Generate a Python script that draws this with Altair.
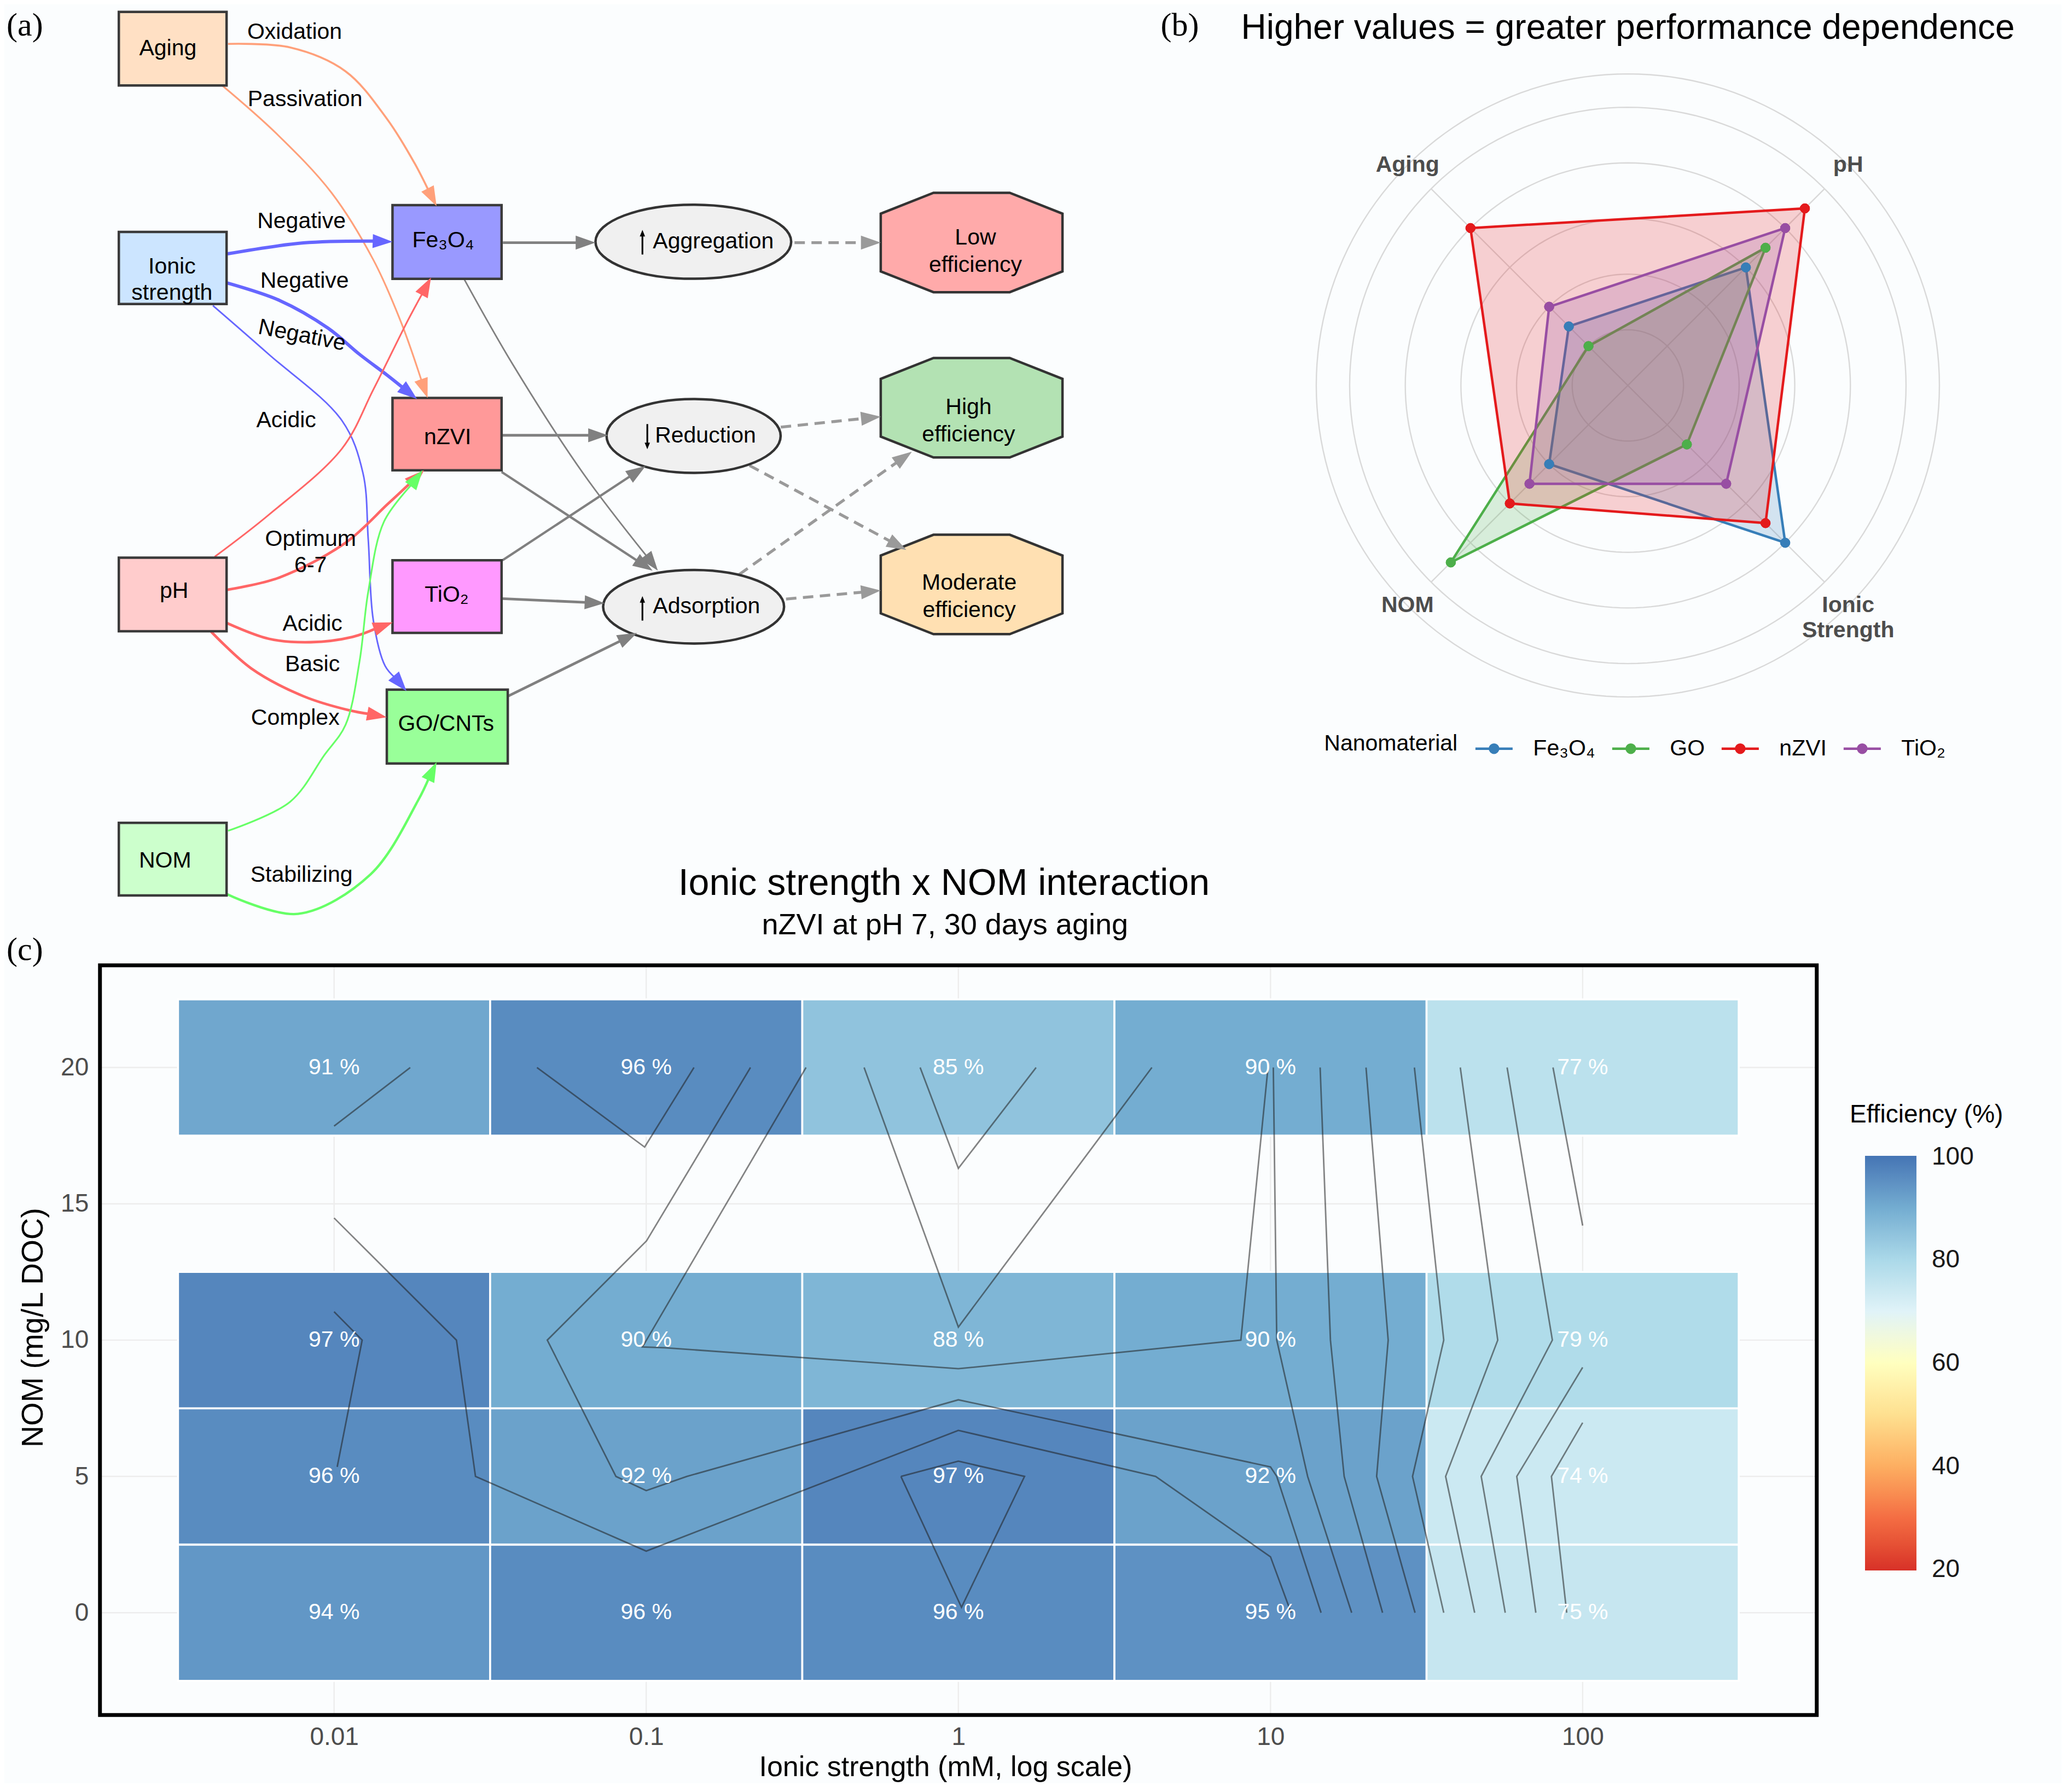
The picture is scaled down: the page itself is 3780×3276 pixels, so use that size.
import math
import altair as alt
import pandas as pd

# reference display unit (1568 x 1359 frame) -> page pixel = d * K ; the page has an 8 px margin
K = 3780.0 / 1568.0
W, H = 3760, 3252                      # whole canvas
PL = 75.8 * K - 8.0                    # left padding: the view starts at the heat-map frame
VH = 1300.5 * K - 8.0                  # view height: the view ends at the heat-map frame bottom


def PX(d):
    return d * K - 8.0 - PL


def PY(d):
    return d * K - 8.0


SANS = "Liberation Sans"
SERIF = "Liberation Serif"
BG = "#FBFDFE"
SYM = (2.0 * K) ** 2  # custom symbol paths are written in display units

# ============================================================ panel (a) data
node_id = ["Aging", "Ionic", "pH", "NOM", "Fe3O4", "nZVI", "TiO2", "GO"]
node_text = ["Aging", "Ionic\nstrength", "pH", "NOM", "Fe₃O₄", "nZVI", "TiO₂", "GO/CNTs"]
node_left = [90.1, 90.1, 90.1, 90.1, 297.6, 297.6, 297.6, 293.3]
node_right = [171.8, 171.8, 171.8, 171.8, 380.3, 380.3, 380.3, 385.0]
node_top = [9.0, 175.9, 422.9, 624.0, 155.6, 301.8, 424.9, 523.0]
node_bottom = [64.8, 230.5, 478.7, 679.0, 211.4, 356.6, 479.9, 579.0]
node_fill = ["#FFE0C4", "#CCE5FF", "#FFCCCC", "#CCFFCC", "#9999FF", "#FF9999", "#FF99FF", "#99FF99"]
node_text_x = [127.3, 130.4, 132.0, 125.2, 336.0, 339.4, 338.7, 338.2]
node_text_y = [37.1, 202.4, 448.5, 652.8, 182.7, 331.7, 451.3, 549.2]

proc_id = ["Aggregation", "Reduction", "Adsorption"]
proc_text = ["Aggregation", "Reduction", "Adsorption"]
proc_cx = [525.7, 525.9, 525.9]
proc_cy = [183.3, 330.6, 460.1]
proc_rx = [74.2, 66.0, 68.6]
proc_ry = [28.1, 28.0, 27.9]
proc_text_x = [495.0, 496.6, 495.0]
# thin up / down arrows drawn in front of the process names
glyph_x = [487.1, 490.8, 487.1]
glyph_tail = [193.0, 321.6, 470.6]
glyph_tip = [174.3, 340.7, 452.0]

out_text = ["Low\nefficiency", "High\nefficiency", "Moderate\nefficiency"]
out_cx = [736.7, 736.7, 736.7]
out_cy = [183.9, 309.2, 443.2]
out_text_x = [739.6, 734.4, 734.9]
out_text_y = [180.3, 309.2, 442.0]
out_fill = ["#FFAAAA", "#B3E2B3", "#FFE0B2"]

ORANGE, BLUE, RED, GREEN, GRAY, DGRAY = "#FFA07A", "#6666FF", "#FF6666", "#66FF66", "#808080", "#9A9A9A"
edge_id = ["Oxidation", "Passivation", "IS-Fe", "IS-nZVI", "IS-GO", "pH-Fe", "pH-nZVI", "pH-TiO2",
           "pH-GO", "NOM-nZVI", "NOM-GO", "Fe-Agg", "Fe-Ads", "nZVI-Red", "nZVI-Ads", "TiO2-Red",
           "TiO2-Ads", "GO-Ads", "Agg-Low", "Red-High", "Red-Mod", "Ads-High", "Ads-Mod"]
edge_pts = [
    [(172.9, 33.3), (220.0, 36.0), (261.9, 54.0), (293.3, 90.0), (314.3, 123.7), (331.0, 156.3)],
    [(167.6, 64.1), (209.5, 101.2), (251.4, 146.2), (283.2, 197.3), (304.3, 244.9), (324.2, 301.8)],
    [(172.5, 192.5), (230.0, 184.2), (283.0, 182.8), (297.6, 183.3)],
    [(172.0, 214.5), (211.7, 227.7), (248.8, 248.9), (272.6, 268.7), (293.7, 284.6), (316.2, 302.6)],
    [(161.4, 231.7), (203.8, 268.7), (259.3, 319.0), (275.2, 358.7), (279.2, 409.0), (283.0, 470.0),
     (292.0, 505.0), (308.2, 524.0)],
    [(162.8, 422.2), (203.8, 390.4), (259.3, 340.2), (283.2, 295.2), (309.6, 242.3), (326.8, 210.5)],
    [(172.0, 447.3), (211.7, 438.0), (262.0, 411.6), (293.7, 382.5), (321.5, 356.6)],
    [(172.0, 472.5), (203.8, 484.4), (235.5, 487.0), (267.3, 483.0), (297.7, 472.0)],
    [(160.1, 479.0), (190.5, 506.9), (230.2, 528.0), (264.6, 538.6), (293.2, 543.9)],
    [(172.9, 630.0), (220.0, 608.0), (246.0, 572.5), (262.0, 549.7), (272.6, 501.6), (279.2, 448.7),
     (291.1, 395.7), (320.4, 356.6)],
    [(172.0, 678.0), (226.0, 693.0), (281.0, 663.0), (317.0, 607.0), (331.0, 578.0)],
    [(381.3, 184.0), (451.5, 184.0)],
    [(352.0, 211.8), (389.0, 276.7), (442.0, 358.7), (498.8, 432.8)],
    [(380.3, 330.1), (461.0, 330.1)],
    [(380.3, 357.9), (494.8, 432.8)],
    [(381.0, 424.9), (489.5, 353.4)],
    [(381.0, 454.0), (458.3, 457.4)],
    [(385.0, 528.0), (483.0, 479.9)],
    [(602.4, 184.0), (667.8, 184.0)],
    [(592.0, 323.9), (667.8, 316.0)],
    [(568.3, 353.0), (687.2, 417.0)],
    [(560.5, 435.6), (691.4, 342.5)],
    [(596.0, 454.3), (667.8, 447.8)],
]
edge_color = [ORANGE, ORANGE, BLUE, BLUE, BLUE, RED, RED, RED, RED, GREEN, GREEN,
              GRAY, GRAY, GRAY, GRAY, GRAY, GRAY, GRAY, DGRAY, DGRAY, DGRAY, DGRAY, DGRAY]
edge_width = [1.5, 1.3, 2.5, 2.5, 1.2, 1.3, 2.0, 2.0, 2.0, 1.3, 1.8,
              2.0, 1.2, 2.0, 1.8, 1.8, 2.0, 2.0, 2.2, 2.2, 2.2, 2.2, 2.2]
edge_dashed = [False] * 18 + [True] * 5

elab_text = ["Oxidation", "Passivation", "Negative", "Negative", "Negative", "Acidic",
             "Optimum\n6-7", "Acidic", "Basic", "Complex", "Stabilizing"]
elab_x = [223.4, 231.3, 228.6, 230.9, 229.0, 217.0, 235.5, 236.9, 236.9, 223.9, 228.6]
elab_y = [24.3, 75.3, 168.2, 213.2, 254.5, 319.0, 408.9, 473.3, 504.2, 544.7, 663.9]
elab_angle = [0, 0, 0, 0, 11, 0, 0, 0, 0, 0, 0]

tag_text = ["(a)", "(b)", "(c)"]
tag_x = [5.0, 880.0, 5.0]
tag_y = [19.5, 19.5, 720.5]

ARROW_PATH = "M0,0L-15,-5.3L-15,5.3Z"
ARROW_BACK = 13.0
GLYPH_HEAD = "M0,0L-5,-2L-5,2Z"
GLYPH_BACK = 4.0
OCT_PATH = "M-28.9,-37.7L28.9,-37.7L68.9,-21.9L68.9,21.9L28.9,37.7L-28.9,37.7L-68.9,21.9L-68.9,-21.9Z"
proc_paths = [f"M{-rx},0A{rx},{ry},0,1,0,{rx},0A{rx},{ry},0,1,0,{-rx},0Z"
              for rx, ry in zip(proc_rx, proc_ry)]

# ============================================================ panel (b) data
materials = ["Fe₃O₄", "GO", "nZVI", "TiO₂"]
mat_colors = ["#377EB8", "#4DAF4A", "#E41A1C", "#984EA3"]
factors = ["Aging", "pH", "Ionic\nStrength", "NOM"]
factor_angle = [315, 45, 135, 225]
score_fe3o4 = [1.5, 3.0, 4.0, 2.0]
score_go = [1.0, 3.5, 1.5, 4.5]
score_nzvi = [4.0, 4.5, 3.5, 3.0]
score_tio2 = [2.0, 4.0, 2.5, 2.5]
grid_r = [1, 2, 3, 4, 5, 5.6]
spoke_r = 5.0
label_r = 5.6

# ============================================================ panel (c) data
ionic_levels = [0.01, 0.1, 1, 10, 100]
nom_levels = [0, 5, 10, 20]
eff_nom0 = [94, 96, 96, 95, 75]
eff_nom5 = [96, 92, 97, 92, 74]
eff_nom10 = [97, 90, 88, 90, 79]
eff_nom20 = [91, 96, 85, 90, 77]
nom_ticks = [0, 5, 10, 15, 20]
legend_ticks = [20, 40, 60, 80, 100]
# contour polylines: (log10 ionic strength, NOM)
contour_lines = [
    [(-2.0, 17.85), (-1.756, 20.0)],
    [(-1.35, 20.0), (-1.005, 17.08), (-0.847, 20.0)],
    [(-0.666, 20.0), (-0.999, 13.64), (-1.317, 10.0), (-1.097, 5.0), (-1.0, 4.48), (-0.87, 5.0),
     (0.0, 7.81), (1.0, 5.35), (1.02, 5.0), (1.162, 0.0)],
    [(-0.488, 20.0), (-1.012, 9.75), (-0.94, 9.72), (0.0, 8.95), (0.905, 10.0), (0.992, 20.0)],
    [(1.009, 20.0), (1.02, 10.0), (1.119, 5.0), (1.26, 0.0)],
    [(-2.0, 14.48), (-1.608, 10.0), (-1.547, 5.0), (-1.0, 2.26), (0.0, 6.69), (0.632, 5.0),
     (1.0, 2.05), (1.066, 0.0)],
    [(-2.0, 11.04), (-1.91, 10.0), (-1.99, 5.35)],
    [(-0.184, 5.0), (0.0, 5.56), (0.212, 5.0), (0.01, 0.2), (-0.184, 5.0)],
    [(-0.302, 20.0), (0.0, 10.48), (0.62, 20.0)],
    [(-0.1225, 20.0), (0.0, 16.3), (0.249, 20.0)],
    [(1.159, 20.0), (1.192, 10.0), (1.236, 5.0), (1.359, 0.0)],
    [(1.306, 20.0), (1.377, 10.0), (1.34, 5.0), (1.463, 0.0)],
    [(1.461, 20.0), (1.555, 10.0), (1.455, 5.0), (1.555, 0.0)],
    [(1.608, 20.0), (1.728, 10.0), (1.561, 5.0), (1.654, 0.0)],
    [(1.758, 20.0), (1.903, 10.0), (1.675, 5.0), (1.752, 0.0)],
    [(1.905, 20.0), (2.0, 14.2)],
    [(2.0, 9.0), (1.789, 5.0), (1.85, 0.0)],
    [(2.0, 6.97), (1.9, 5.0), (1.949, 0.0)],
]
rdylbu9 = ["#D73027", "#F46D43", "#FDAE61", "#FEE090", "#FFFFBF", "#E0F3F8", "#ABD9E9", "#74ADD1", "#4575B4"]
rdylbu_stops = [19.8, 30, 40, 50, 60, 70, 80, 90, 100.2]

# ============================================================ panel (a) charts
SX = alt.Scale(domain=[0, 1568], range=[PX(0), PX(1568)], nice=False, zero=False)
SY = alt.Scale(domain=[0, 1359], range=[PY(0), PY(1359)], nice=False, zero=False)


def ax(f):
    return alt.X(f, type="quantitative", scale=SX, axis=None)


def ay(f):
    return alt.Y(f, type="quantitative", scale=SY, axis=None)


def text_layer(df, size, font=SANS, align="center", baseline="middle", weight="normal",
               color="black", line_height=None, with_angle=False):
    kw = dict(font=font, fontSize=size, align=align, baseline=baseline, fontWeight=weight,
              color=color, lineBreak="\n")
    if line_height:
        kw["lineHeight"] = line_height
    enc = dict(x=ax("x"), y=ay("y"), text=alt.Text("t:N"))
    if with_angle:
        enc["angle"] = alt.Angle("ang:Q", scale=None)
    return alt.Chart(df).mark_text(**kw).encode(**enc)


edge_rows, head_rows = [], []
for eid, pts, col, w, dashed in zip(edge_id, edge_pts, edge_color, edge_width, edge_dashed):
    tx, ty = pts[-1]
    qx, qy = pts[-2]
    dx, dy = tx - qx, ty - qy
    L = math.hypot(dx, dy)
    base = (tx - ARROW_BACK * dx / L, ty - ARROW_BACK * dy / L)
    for i, (x, y) in enumerate(list(pts[:-1]) + [base]):
        edge_rows.append(dict(edge=eid, i=i, x=x, y=y, color=col, w=w, dashed=dashed))
    head_rows.append(dict(edge=eid, x=tx, y=ty, color=col,
                          ang=(math.degrees(math.atan2(dy, dx)) + 360.0) % 360.0))
edge_df = pd.DataFrame(edge_rows)

edge_layers = []
for (col, w, dashed), sub in edge_df.groupby(["color", "w", "dashed"], sort=False):
    kw = dict(interpolate="catmull-rom", color=col, strokeWidth=w * K)
    if dashed:
        kw["strokeDash"] = [19, 12]
    edge_layers.append(alt.Chart(sub.reset_index(drop=True)).mark_line(**kw).encode(
        x=ax("x"), y=ay("y"), detail="edge:N", order="i:Q"))

heads_chart = alt.Chart(pd.DataFrame(head_rows)).mark_point(
    shape=ARROW_PATH, size=SYM, filled=True, opacity=1, strokeWidth=0).encode(
    x=ax("x"), y=ay("y"), angle=alt.Angle("ang:Q", scale=None), color=alt.Color("color:N", scale=None))

rect_df = pd.DataFrame(dict(id=node_id, x0=node_left, x1=node_right, y0=node_top, y1=node_bottom, fill=node_fill))
rect_chart = alt.Chart(rect_df).mark_rect(stroke="#3A3A3A", strokeWidth=4.5).encode(
    x=ax("x0"), x2="x1", y=ay("y0"), y2="y1", color=alt.Color("fill:N", scale=None))

ell_df = pd.DataFrame(dict(pid=proc_id, x=proc_cx, y=proc_cy))
ell_chart = alt.Chart(ell_df).mark_point(filled=True, size=SYM, opacity=1, fill="#F0F0F0",
                                         stroke="#333333", strokeWidth=4.5).encode(
    x=ax("x"), y=ay("y"),
    shape=alt.Shape("pid:N", scale=alt.Scale(domain=proc_id, range=proc_paths), legend=None))

oct_df = pd.DataFrame(dict(x=out_cx, y=out_cy, fill=out_fill))
oct_chart = alt.Chart(oct_df).mark_point(shape=OCT_PATH, filled=True, size=SYM, opacity=1,
                                         stroke="#333333", strokeWidth=4.5).encode(
    x=ax("x"), y=ay("y"), color=alt.Color("fill:N", scale=None))

glyph_rows = []
for gx, gt, gp in zip(glyph_x, glyph_tail, glyph_tip):
    sgn = 1.0 if gt > gp else -1.0
    glyph_rows.append(dict(x=gx, tail=gt, base=gp + sgn * GLYPH_BACK, tip=gp,
                           ang=270.0 if sgn > 0 else 90.0))
glyph_df = pd.DataFrame(glyph_rows)
glyph_shaft = alt.Chart(glyph_df).mark_rule(color="black", strokeWidth=1.3 * K).encode(
    x=ax("x"), y=ay("tail"), y2="base")
glyph_head = alt.Chart(glyph_df).mark_point(shape=GLYPH_HEAD, size=SYM, filled=True, opacity=1,
                                            color="black", strokeWidth=0).encode(
    x=ax("x"), y=ay("tip"), angle=alt.Angle("ang:Q", scale=None))

node_txt = text_layer(pd.DataFrame(dict(x=node_text_x, y=node_text_y, t=node_text)), 41, line_height=48)
proc_txt = text_layer(pd.DataFrame(dict(x=proc_text_x, y=proc_cy, t=proc_text)), 41, align="left")
out_txt = text_layer(pd.DataFrame(dict(x=out_text_x, y=out_text_y, t=out_text)), 41, line_height=50)
elab_txt = text_layer(pd.DataFrame(dict(x=elab_x, y=elab_y, t=elab_text, ang=elab_angle)), 41,
                      line_height=48, with_angle=True)
tags_txt = text_layer(pd.DataFrame(dict(x=tag_x, y=tag_y, t=tag_text)), 60, font=SERIF, align="left")
btitle_txt = text_layer(pd.DataFrame(dict(x=[941.0], y=[29.5], t=["Higher values = greater performance dependence"])),
                        64, align="left", baseline="alphabetic")
ctitle_txt = text_layer(pd.DataFrame(dict(x=[715.7], y=[678.5], t=["Ionic strength x NOM interaction"])),
                        68, baseline="alphabetic")
csub_txt = text_layer(pd.DataFrame(dict(x=[716.5], y=[708.5], t=["nZVI at pH 7, 30 days aging"])),
                      54, baseline="alphabetic")
eff_title_txt = text_layer(pd.DataFrame(dict(x=[1402.5], y=[851.2], t=["Efficiency (%)"])),
                           46, align="left", baseline="alphabetic")

panel_a = alt.layer(*edge_layers, rect_chart, ell_chart, oct_chart, heads_chart, glyph_shaft, glyph_head,
                    node_txt, proc_txt, out_txt, elab_txt, tags_txt, btitle_txt, ctitle_txt, csub_txt,
                    eff_title_txt)

# ============================================================ panel (b) charts
RCX, RCY, RU = PX(1234.26), PY(292.28), 101.7
RX = alt.Scale(domain=[-6, 6], range=[RCX - 6 * RU, RCX + 6 * RU], nice=False, zero=False)
RY = alt.Scale(domain=[-6, 6], range=[RCY + 6 * RU, RCY - 6 * RU], nice=False, zero=False)


def rxe(f):
    return alt.X(f, type="quantitative", scale=RX, axis=None)


def rye(f):
    return alt.Y(f, type="quantitative", scale=RY, axis=None)


rings = alt.Chart(alt.sequence(0, 362, 2, as_="deg")).transform_calculate(
    rr="[" + ",".join(str(r) for r in grid_r) + "]"
).transform_flatten(["rr"]).transform_calculate(
    gx="datum.rr * sin(datum.deg * PI / 180)", gy="datum.rr * cos(datum.deg * PI / 180)"
).mark_line(color="#D9D9D9", strokeWidth=2.4).encode(
    x=rxe("gx"), y=rye("gy"), detail="rr:N", order="deg:Q")

spoke_df = pd.DataFrame(dict(ang=factor_angle, r0=[0.0] * 4, r1=[spoke_r] * 4))
spokes = alt.Chart(spoke_df).transform_calculate(
    sx0="datum.r0 * sin(datum.ang * PI / 180)", sy0="datum.r0 * cos(datum.ang * PI / 180)",
    sx1="datum.r1 * sin(datum.ang * PI / 180)", sy1="datum.r1 * cos(datum.ang * PI / 180)"
).mark_rule(color="#D9D9D9", strokeWidth=2.4).encode(x=rxe("sx0"), y=rye("sy0"), x2="sx1", y2="sy1")

poly_rows = []
for m, scores in zip(materials, [score_fe3o4, score_go, score_nzvi, score_tio2]):
    for k, (f, a, v) in enumerate(zip(factors, factor_angle, scores)):
        poly_rows.append(dict(mat=m, factor=f, ang=a, value=v, k=k))
poly_df = pd.DataFrame(poly_rows)
polar_calc = dict(px="datum.value * sin(datum.ang * PI / 180)", py="datum.value * cos(datum.ang * PI / 180)")

fill_scale = alt.Scale(domain=materials, range=mat_colors)
stroke_scale = alt.Scale(domain=materials, range=mat_colors)

LEG_PATH = "M-1,0L1,0M0.22,0A0.22,0.22,0,1,1,-0.22,0A0.22,0.22,0,1,1,0.22,0Z"
rleg = alt.Legend(title="Nanomaterial", orient="none", legendX=PX(1004.0), legendY=PY(566.6) - 34,
                  direction="horizontal", titleOrient="left", titleAnchor="middle", titleBaseline="middle",
                  titleLimit=600, labelLimit=400,
                  symbolType=LEG_PATH, symbolSize=4624, symbolStrokeWidth=4.5, symbolOpacity=1,
                  labelFont=SANS, labelFontSize=41, labelColor="black", labelOffset=35,
                  titleFont=SANS, titleFontSize=41, titleFontWeight="normal", titleColor="black",
                  titlePadding=30, columnPadding=21, padding=0)

# first point layer carries the legend definition (drawn again on top below)
points_legend = alt.Chart(poly_df).transform_calculate(**polar_calc).mark_point(
    filled=True, size=300, opacity=1, strokeWidth=1).encode(
    x=rxe("px"), y=rye("py"),
    fill=alt.Fill("mat:N", scale=fill_scale, legend=rleg),
    stroke=alt.Stroke("mat:N", scale=stroke_scale, legend=rleg))

polys = alt.Chart(poly_df).transform_calculate(**polar_calc).mark_line(
    interpolate="linear-closed", strokeWidth=4.5, fillOpacity=0.2).encode(
    x=rxe("px"), y=rye("py"), order="k:Q",
    fill=alt.Fill("mat:N", scale=fill_scale),
    stroke=alt.Stroke("mat:N", scale=stroke_scale))

points = alt.Chart(poly_df).transform_calculate(**polar_calc).mark_point(
    filled=True, size=300, opacity=1, strokeWidth=1).encode(
    x=rxe("px"), y=rye("py"),
    fill=alt.Fill("mat:N", scale=fill_scale),
    stroke=alt.Stroke("mat:N", scale=stroke_scale))

flab_df = pd.DataFrame(dict(t=factors, ang=factor_angle, r=[label_r] * 4))
flabels = alt.Chart(flab_df).transform_calculate(
    lx="datum.r * sin(datum.ang * PI / 180)", ly="datum.r * cos(datum.ang * PI / 180)"
).mark_text(font=SANS, fontSize=41, fontWeight="bold", color="#4D4D4D", lineBreak="\n",
            lineHeight=46).encode(x=rxe("lx"), y=rye("ly"), text="t:N")

panel_b = alt.layer(points_legend, rings, spokes, polys, points, flabels)

# ============================================================ panel (c) charts
C_XLO, C_XHI = 10 ** -2.75, 10 ** 2.75
C_YLO, C_YHI = -3.75, 23.75
CX = alt.Scale(type="log", domain=[C_XLO, C_XHI], range=[0, PX(1377.5)], nice=False)
CY = alt.Scale(domain=[C_YLO, C_YHI], range=[VH, PY(732.0)], nice=False, zero=False)

x_axis = alt.Axis(values=ionic_levels, labelExpr="'' + datum.value", orient="bottom",
                  ticks=False, domain=False, grid=False, zindex=1,
                  labelFont=SANS, labelFontSize=46, labelColor="#4D4D4D", labelPadding=18,
                  labelFlush=False, labelOverlap=False,
                  title="Ionic strength (mM, log scale)", titleFont=SANS, titleFontSize=52,
                  titleFontWeight="normal", titleColor="black",
                  titleX=PX(716.8), titleY=(1340.0 - 1300.5) * K, titleBaseline="middle", titleAlign="center")
y_axis = alt.Axis(values=nom_ticks, orient="left", ticks=False, domain=False, grid=False, zindex=1,
                  labelFont=SANS, labelFontSize=46, labelColor="#4D4D4D", labelPadding=21,
                  labelFlush=False, labelOverlap=False,
                  title="NOM (mg/L DOC)", titleFont=SANS, titleFontSize=55, titleFontWeight="normal",
                  titleColor="black", titleAngle=270, titleX=PX(25.0), titleY=PY(1006.6),
                  titleBaseline="middle", titleAlign="center")


def cxe(f):
    return alt.X(f, type="quantitative", scale=CX, axis=x_axis)


def cye(f):
    return alt.Y(f, type="quantitative", scale=CY, axis=y_axis)


gridv_df = pd.DataFrame(dict(ionic=ionic_levels, ylo=[C_YLO] * 5, yhi=[C_YHI] * 5))
gridv = alt.Chart(gridv_df).mark_rule(color="#EDEDED", strokeWidth=2.4).encode(
    x=cxe("ionic"), y=cye("ylo"), y2="yhi:Q")

gridh_df = pd.DataFrame(dict(nom=nom_ticks, xlo=[C_XLO] * 5, xhi=[C_XHI] * 5))
gridh = alt.Chart(gridh_df).mark_rule(color="#EDEDED", strokeWidth=2.4).encode(
    x=cxe("xlo"), x2="xhi:Q", y=cye("nom"))

tile_rows = []
for n, row in zip(nom_levels, [eff_nom0, eff_nom5, eff_nom10, eff_nom20]):
    for ion, e in zip(ionic_levels, row):
        tile_rows.append(dict(ionic=ion, nom=n, eff=e))
tile_df = pd.DataFrame(tile_rows)

cleg = alt.Legend(title=None, orient="none", legendX=PX(1414.1), legendY=PY(876.5), direction="vertical",
                  gradientLength=758, gradientThickness=94, values=legend_ticks,
                  labelFont=SANS, labelFontSize=46, labelColor="#1A1A1A", labelOffset=28,
                  labelOverlap=False, gradientStrokeWidth=0, padding=0)
tiles = alt.Chart(tile_df).transform_calculate(
    x0="datum.ionic / sqrt(10)", x1="datum.ionic * sqrt(10)",
    y0="datum.nom - 2.5", y1="datum.nom + 2.5"
).mark_rect(stroke="white", strokeWidth=3.6).encode(
    x=cxe("x0"), x2="x1:Q", y=cye("y0"), y2="y1:Q",
    color=alt.Color("eff:Q", scale=alt.Scale(domain=rdylbu_stops, range=rdylbu9, interpolate="lab"),
                    legend=cleg))

cont_rows = []
for cid, line in enumerate(contour_lines):
    for i, (u, v) in enumerate(line):
        cont_rows.append(dict(cid=cid, i=i, u=u, nom=v))
contours = alt.Chart(pd.DataFrame(cont_rows)).transform_calculate(
    ion="pow(10, datum.u)"
).mark_line(color="#1F1F1F", opacity=0.55, strokeWidth=2.8).encode(
    x=cxe("ion"), y=cye("nom"), detail="cid:N", order="i:Q")

tile_labels = alt.Chart(tile_df).transform_calculate(lab="datum.eff + ' %'").mark_text(
    font=SANS, fontSize=41, color="white").encode(x=cxe("ionic"), y=cye("nom"), text="lab:N")

frame_df = pd.DataFrame(dict(xlo=[C_XLO], xhi=[C_XHI], ylo=[C_YLO], yhi=[C_YHI]))
frame = alt.Chart(frame_df).mark_rect(filled=False, stroke="black", strokeWidth=7).encode(
    x=cxe("xlo"), x2="xhi:Q", y=cye("ylo"), y2="yhi:Q")

panel_c = alt.layer(gridv, gridh, tiles, contours, tile_labels, frame)

# ============================================================ assemble
chart = alt.layer(panel_c, panel_a, panel_b).resolve_scale(
    x="independent", y="independent"
).resolve_axis(x="independent", y="independent").properties(
    width=W - PL, height=VH, background=BG,
    padding={"left": PL, "top": 0, "right": 0, "bottom": H - VH},
    autosize=alt.AutoSizeParams(type="none")
).configure_view(stroke=None)

chart.save("out.html", embed_options={"renderer": "svg", "actions": False})
